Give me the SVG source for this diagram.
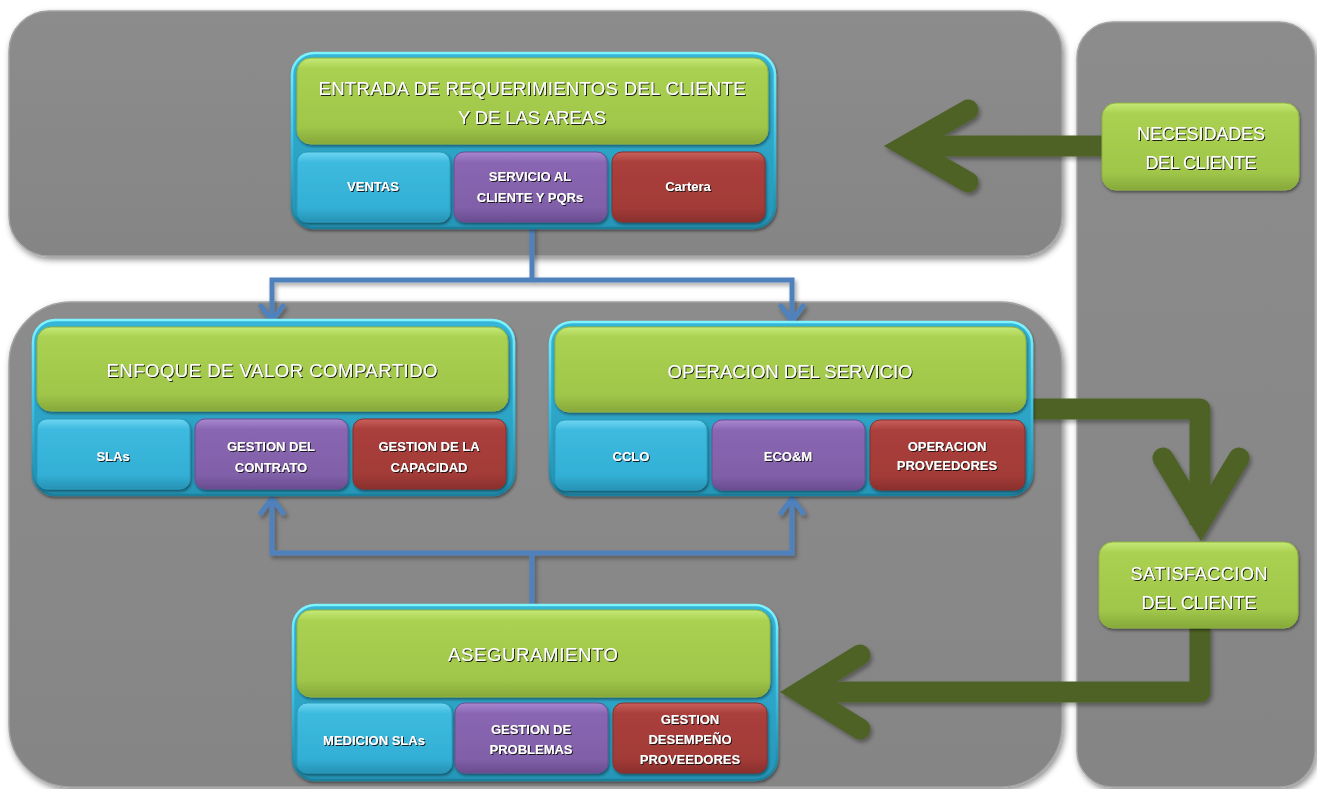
<svg xmlns="http://www.w3.org/2000/svg" width="1317" height="789" viewBox="0 0 1317 789">
  <defs>
    <linearGradient id="gPanel" x1="0" y1="0" x2="0" y2="1">
      <stop offset="0" stop-color="#8c8c8c"/>
      <stop offset="1" stop-color="#858585"/>
    </linearGradient>
    <linearGradient id="gGreen" x1="0" y1="0" x2="0" y2="1">
      <stop offset="0" stop-color="#c6ea78"/>
      <stop offset="0.12" stop-color="#abd152"/>
      <stop offset="0.8" stop-color="#a0c64a"/>
      <stop offset="1" stop-color="#86a83a"/>
    </linearGradient>
    <linearGradient id="gCyan" x1="0" y1="0" x2="0" y2="1">
      <stop offset="0" stop-color="#6fd6f2"/>
      <stop offset="0.15" stop-color="#3ebadf"/>
      <stop offset="0.8" stop-color="#33afd5"/>
      <stop offset="1" stop-color="#2792b4"/>
    </linearGradient>
    <linearGradient id="gPurple" x1="0" y1="0" x2="0" y2="1">
      <stop offset="0" stop-color="#a988d0"/>
      <stop offset="0.15" stop-color="#8a66b2"/>
      <stop offset="0.8" stop-color="#8060a8"/>
      <stop offset="1" stop-color="#6a4c90"/>
    </linearGradient>
    <linearGradient id="gRed" x1="0" y1="0" x2="0" y2="1">
      <stop offset="0" stop-color="#c8605c"/>
      <stop offset="0.15" stop-color="#aa3f3b"/>
      <stop offset="0.8" stop-color="#a23b38"/>
      <stop offset="1" stop-color="#8a2f2c"/>
    </linearGradient>
    <linearGradient id="gFrame" x1="0" y1="0" x2="0" y2="1">
      <stop offset="0" stop-color="#35b6d8"/>
      <stop offset="1" stop-color="#2696b8"/>
    </linearGradient>
    <linearGradient id="gRim" x1="0" y1="0" x2="0" y2="1">
      <stop offset="0" stop-color="#7ff4ff"/>
      <stop offset="0.5" stop-color="#3cc0e2"/>
      <stop offset="1" stop-color="#1e7f9c"/>
    </linearGradient>
    <filter id="fPanel" x="-5%" y="-5%" width="110%" height="110%">
      <feDropShadow dx="2" dy="3" stdDeviation="3" flood-color="#000" flood-opacity="0.45"/>
    </filter>
    <filter id="fBox" x="-10%" y="-10%" width="120%" height="130%">
      <feDropShadow dx="1" dy="2" stdDeviation="1.6" flood-color="#000" flood-opacity="0.45"/>
    </filter>
    <filter id="fText" x="-10%" y="-30%" width="120%" height="160%">
      <feDropShadow dx="1" dy="1" stdDeviation="0.7" flood-color="#111" flood-opacity="0.9"/>
    </filter>
    <!-- user-space region so straight strokes with a flat bounding box still render -->
    <filter id="fArrow" filterUnits="userSpaceOnUse" x="0" y="0" width="1317" height="789">
      <feDropShadow dx="2" dy="3" stdDeviation="2" flood-color="#000" flood-opacity="0.35"/>
    </filter>
    <style>
      .panel { fill: url(#gPanel); stroke: #a3a3a3; stroke-width: 1.5; filter: url(#fPanel); }
      .frame { fill: url(#gFrame); stroke: url(#gRim); stroke-width: 2.5; filter: url(#fBox); }
      .green { fill: url(#gGreen); stroke: #8fb240; stroke-width: 1; filter: url(#fBox); }
      .cyan { fill: url(#gCyan); stroke: #2a9cbe; stroke-width: 1; filter: url(#fBox); }
      .purple { fill: url(#gPurple); stroke: #6c4e92; stroke-width: 1; filter: url(#fBox); }
      .red { fill: url(#gRed); stroke: #8a2f2c; stroke-width: 1; filter: url(#fBox); }
      .hd { font-family: "Liberation Sans", Arial, sans-serif; font-size: 18.5px; fill: #ffffff; text-anchor: middle; filter: url(#fText); }
      .side { font-family: "Liberation Sans", Arial, sans-serif; font-size: 18px; fill: #ffffff; text-anchor: middle; filter: url(#fText); }
      .sub { font-family: "Liberation Sans", Arial, sans-serif; font-size: 13px; font-weight: bold; fill: #ffffff; text-anchor: middle; filter: url(#fText); }
      .bigArrow { fill: none; stroke: #4f6228; stroke-width: 21; stroke-linecap: butt; stroke-linejoin: round; }
      .bigHead { fill: none; stroke: #4f6228; stroke-width: 21; stroke-linecap: round; stroke-linejoin: miter; stroke-miterlimit: 6; }
      .link { fill: none; stroke: #4f81bd; stroke-width: 5; stroke-linecap: square; stroke-linejoin: miter; }
      .linkHead { fill: none; stroke: #4f81bd; stroke-width: 5; stroke-linecap: round; stroke-linejoin: miter; }
    </style>
  </defs>

  <rect width="1317" height="789" fill="#ffffff"/>

  <!-- background panels -->
  <g id="panels">
    <rect class="panel" x="9" y="11" width="1053" height="245" rx="40"/>
    <rect class="panel" x="9" y="302" width="1053" height="485" rx="62"/>
    <rect class="panel" x="1077" y="22" width="238" height="765" rx="36"/>
  </g>

  <!-- connectors -->
  <g id="connectors" filter="url(#fArrow)">
    <!-- NECESIDADES -> ENTRADA -->
    <path class="bigArrow" d="M1103,146 H915"/>
    <path class="bigHead" d="M968,110 L905,146 L968,182"/>
    <!-- OPERACION -> SATISFACCION -->
    <path class="bigArrow" d="M1030,409 H1200 V525"/>
    <path class="bigHead" d="M1163,458 L1201,521 L1239,458"/>
    <!-- SATISFACCION -> ASEGURAMIENTO -->
    <path class="bigArrow" d="M1200,627 V692 H810"/>
    <path class="bigHead" d="M860,655 L800,692 L860,729"/>

    <!-- ENTRADA -> ENFOQUE / OPERACION -->
    <path class="link" d="M532,229 V280 M272,320 V280 H792 V320"/>
    <path class="linkHead" d="M261,306 L272,321 L283,306 M781,306 L792,321 L803,306"/>
    <!-- ASEGURAMIENTO -> ENFOQUE / OPERACION -->
    <path class="link" d="M532,606 V553 M272,500 V553 H792 V500"/>
    <path class="linkHead" d="M261,513 L272,498 L283,513 M781,513 L792,498 L803,513"/>
  </g>

  <!-- ENTRADA DE REQUERIMIENTOS -->
  <g id="entrada">
    <rect class="frame" x="292" y="53" width="483" height="175" rx="22"/>
    <rect class="green" x="297" y="58" width="471" height="86" rx="14"/>
    <text class="hd" x="532" y="95" textLength="427">ENTRADA DE REQUERIMIENTOS DEL CLIENTE</text>
    <text class="hd" x="532" y="124" textLength="148">Y DE LAS AREAS</text>
    <rect class="cyan" x="297" y="152" width="153" height="70" rx="10"/>
    <text class="sub" x="373" y="191">VENTAS</text>
    <rect class="purple" x="454" y="152" width="153" height="70" rx="10"/>
    <text class="sub" x="530" y="181">SERVICIO AL</text>
    <text class="sub" x="530" y="202">CLIENTE Y PQRs</text>
    <rect class="red" x="612" y="152" width="153" height="70" rx="10"/>
    <text class="sub" x="688" y="191">Cartera</text>
  </g>

  <!-- ENFOQUE DE VALOR COMPARTIDO -->
  <g id="enfoque">
    <rect class="frame" x="33" y="320" width="481" height="175" rx="22"/>
    <rect class="green" x="37" y="327" width="471" height="84" rx="14"/>
    <text class="hd" x="272" y="377" textLength="331">ENFOQUE DE VALOR COMPARTIDO</text>
    <rect class="cyan" x="37" y="419" width="153" height="70" rx="10"/>
    <text class="sub" x="113" y="461">SLAs</text>
    <rect class="purple" x="195" y="419" width="153" height="70" rx="10"/>
    <text class="sub" x="271" y="451">GESTION DEL</text>
    <text class="sub" x="271" y="472">CONTRATO</text>
    <rect class="red" x="353" y="419" width="153" height="70" rx="10"/>
    <text class="sub" x="429" y="451">GESTION DE LA</text>
    <text class="sub" x="429" y="472">CAPACIDAD</text>
  </g>

  <!-- OPERACION DEL SERVICIO -->
  <g id="operacion">
    <rect class="frame" x="550" y="322" width="482" height="173" rx="22"/>
    <rect class="green" x="555" y="327" width="471" height="85" rx="14"/>
    <text class="hd" x="790" y="378" textLength="245">OPERACION DEL SERVICIO</text>
    <rect class="cyan" x="555" y="420" width="152" height="70" rx="10"/>
    <text class="sub" x="631" y="461">CCLO</text>
    <rect class="purple" x="712" y="420" width="153" height="70" rx="10"/>
    <text class="sub" x="788" y="461">ECO&amp;M</text>
    <rect class="red" x="870" y="420" width="155" height="70" rx="10"/>
    <text class="sub" x="947" y="451">OPERACION</text>
    <text class="sub" x="947" y="470">PROVEEDORES</text>
  </g>

  <!-- ASEGURAMIENTO -->
  <g id="aseguramiento">
    <rect class="frame" x="293" y="605" width="484" height="175" rx="22"/>
    <rect class="green" x="297" y="610" width="473" height="87" rx="14"/>
    <text class="hd" x="533" y="661" textLength="170">ASEGURAMIENTO</text>
    <rect class="cyan" x="297" y="703" width="155" height="70" rx="10"/>
    <text class="sub" x="374" y="745">MEDICION SLAs</text>
    <rect class="purple" x="455" y="703" width="153" height="70" rx="10"/>
    <text class="sub" x="531" y="734">GESTION DE</text>
    <text class="sub" x="531" y="754">PROBLEMAS</text>
    <rect class="red" x="613" y="703" width="154" height="70" rx="10"/>
    <text class="sub" x="690" y="724">GESTION</text>
    <text class="sub" x="690" y="744">DESEMPEÑO</text>
    <text class="sub" x="690" y="764">PROVEEDORES</text>
  </g>

  <!-- NECESIDADES DEL CLIENTE -->
  <g id="necesidades">
    <rect class="green" x="1102" y="103" width="197" height="87" rx="14"/>
    <text class="side" x="1201" y="140" textLength="128">NECESIDADES</text>
    <text class="side" x="1201" y="169" textLength="111">DEL CLIENTE</text>
  </g>

  <!-- SATISFACCION DEL CLIENTE -->
  <g id="satisfaccion">
    <rect class="green" x="1099" y="542" width="199" height="86" rx="14"/>
    <text class="side" x="1199" y="580" textLength="137">SATISFACCION</text>
    <text class="side" x="1199" y="609" textLength="115">DEL CLIENTE</text>
  </g>
</svg>
